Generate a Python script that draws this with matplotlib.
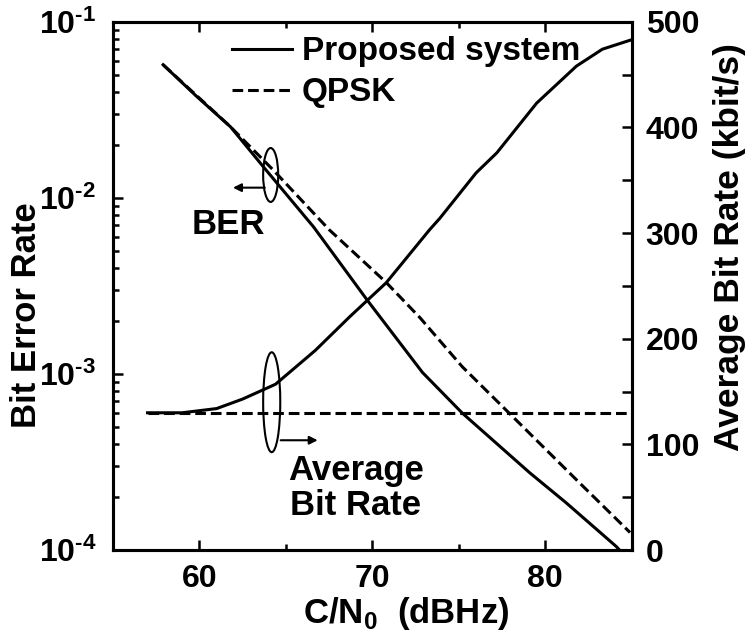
import numpy as np
import matplotlib
matplotlib.use('Agg')
import matplotlib.pyplot as plt
from matplotlib.patches import Ellipse
from matplotlib.lines import Line2D
from matplotlib.ticker import LogLocator, NullFormatter

plt.rcParams['font.family'] = ['Liberation Sans', 'DejaVu Sans']
plt.rcParams['font.weight'] = 'bold'
plt.rcParams['mathtext.fontset'] = 'custom'
plt.rcParams['mathtext.rm'] = 'Liberation Sans:bold'
plt.rcParams['mathtext.bf'] = 'Liberation Sans:bold'

# BER curves (C/N0 in dBHz)
cn0_prop = [57.9, 59.8, 61.8, 63.7, 66.6, 69.7, 72.9, 75.2, 79.1, 81.2, 84.1, 84.3]
ber_prop = [0.057, 0.038, 0.0253, 0.0150, 0.00684, 0.00263, 0.00102,
            6.0e-4, 2.75e-4, 1.86e-4, 1.05e-4, 1.0e-4]
cn0_qpsk = [57.9, 61.8, 64.25, 67.5, 70.8, 72.75, 75.2, 78.1, 82.0, 84.9]
ber_qpsk = [0.057, 0.0253, 0.01445, 0.0066, 0.00331, 0.00209, 0.0011,
            5.75e-4, 2.4e-4, 1.26e-4]

# average bit rate (kbit/s)
cn0_rate = [57.0, 59.0, 61.0, 62.5, 64.4, 66.7, 68.7, 70.8, 73.3, 73.9,
            76.0, 77.2, 79.5, 81.8, 83.3, 85.0]
rate_prop = [130, 130, 134, 143, 157, 189, 221, 253, 303, 314,
             357, 376, 423, 458, 474, 483]
cn0_rate_qpsk = [57.0, 85.0]
rate_qpsk = [130, 130]

xticks = [60, 70, 80]
ber_ticks = [1e-4, 1e-3, 1e-2, 1e-1]
ber_labels = [r'$\mathbf{10^{\text{-}4}}$', r'$\mathbf{10^{\text{-}3}}$',
              r'$\mathbf{10^{\text{-}2}}$', r'$\mathbf{10^{\text{-}1}}$']
rate_ticks = [0, 100, 200, 300, 400, 500]

fs_tick = 23
fs_txt = 25
lw = 2.2
dash = (0, (3.5, 1.6))

fig = plt.figure(figsize=(7.53, 6.39), dpi=100)
ax = fig.add_axes([0.150, 0.139, 0.689, 0.827])
ax2 = ax.twinx()

ax.plot(cn0_prop, ber_prop, color='black', lw=lw)
ax.plot(cn0_qpsk, ber_qpsk, color='black', lw=lw, linestyle=dash)
ax2.plot(cn0_rate, rate_prop, color='black', lw=lw)
ax2.plot(cn0_rate_qpsk, rate_qpsk, color='black', lw=lw, linestyle=dash)

ax.set_yscale('log')
ax.set_xlim(55, 85)
ax.set_ylim(1e-4, 1e-1)
ax2.set_ylim(0, 500)

ax.set_xticks(xticks)
ax.set_xticks([65, 75], minor=True)
ax.set_xticklabels([str(v) for v in xticks], fontsize=fs_tick, fontweight='bold')
ax.set_yticks(ber_ticks)
ax.set_yticklabels(ber_labels, fontsize=fs_tick)
ax.yaxis.set_minor_locator(LogLocator(base=10, subs=np.arange(2, 10), numticks=20))
ax.yaxis.set_minor_formatter(NullFormatter())
ax2.set_yticks(rate_ticks)
ax2.set_yticks(np.arange(50, 500, 100), minor=True)
ax2.set_yticklabels([str(v) for v in rate_ticks], fontsize=fs_tick, fontweight='bold')

ax.tick_params(axis='both', which='both', direction='in', top=True, width=1.8)
ax.tick_params(axis='both', which='major', length=7)
ax.tick_params(axis='x', which='major', pad=10)
ax.tick_params(axis='y', which='major', pad=12)
ax.tick_params(axis='both', which='minor', length=4)
ax.tick_params(axis='y', which='both', right=False)
ax2.tick_params(axis='y', which='both', direction='in', width=1.8)
ax2.tick_params(axis='y', which='major', length=7, pad=10)
ax2.tick_params(axis='y', which='minor', length=7)
for a in (ax, ax2):
    for s in a.spines.values():
        s.set_linewidth(2.2)

ax.set_xlabel(r'C/N$_{\mathbf{0}}$  (dBHz)', fontsize=fs_txt, fontweight='bold')
ax.xaxis.set_label_coords(0.565, -0.085)
ax.set_ylabel('Bit Error Rate', fontsize=fs_txt, fontweight='bold')
ax.yaxis.set_label_coords(-0.135, 0.445)
ax2.set_ylabel('Average Bit Rate (kbit/s)', fontsize=25.5, fontweight='bold')
ax2.yaxis.set_label_coords(1.156, 0.574)

handles = [Line2D([], [], color='black', lw=lw),
           Line2D([], [], color='black', lw=lw, linestyle=dash)]
ax.legend(handles, ['Proposed system', 'QPSK'], loc='upper left',
          bbox_to_anchor=(0.19, 1.01), frameon=False,
          handlelength=1.8, handletextpad=0.3, labelspacing=0.3,
          borderaxespad=0.2, prop={'weight': 'bold', 'size': 24})

# BER marker loop and arrow
ax.add_patch(Ellipse((0.304, 0.710), 0.029, 0.102, transform=ax.transAxes,
                     fill=False, lw=1.5, color='black'))
ax.annotate('', xy=(0.226, 0.686), xytext=(0.298, 0.686),
            xycoords='axes fraction',
            arrowprops=dict(arrowstyle='-|>', color='black', lw=1.5,
                            mutation_scale=12))
ax.text(0.222, 0.617, 'BER', transform=ax.transAxes, fontsize=fs_txt,
        fontweight='bold', ha='center', va='center')

# average bit rate loop and arrow
ax.add_patch(Ellipse((0.306, 0.280), 0.033, 0.189, transform=ax.transAxes,
                     fill=False, lw=1.5, color='black'))
ax.annotate('', xy=(0.400, 0.208), xytext=(0.318, 0.208),
            xycoords='axes fraction',
            arrowprops=dict(arrowstyle='-|>', color='black', lw=1.5,
                            mutation_scale=12))
ax.text(0.468, 0.118, 'Average\nBit Rate', transform=ax.transAxes,
        fontsize=fs_txt, fontweight='bold', ha='center', va='center',
        multialignment='center', linespacing=1.1)

fig.savefig('out.png', dpi=100)
